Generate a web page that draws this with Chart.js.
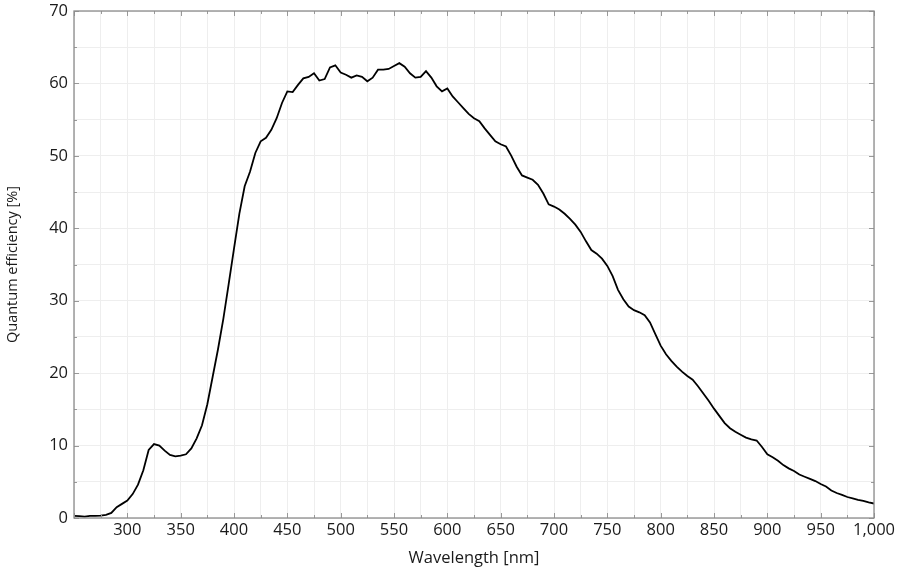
<!DOCTYPE html>
<html>
<head>
<meta charset="utf-8">
<script src="https://cdn.jsdelivr.net/npm/chart.js@4/dist/chart.umd.min.js"></script>
<style>
  html, body { margin: 0; padding: 0; background: #ffffff; }
  #wrap { width: 900px; height: 573px; position: relative; }
</style>
</head>
<body>
<div id="wrap"><canvas id="c"></canvas></div>
<script>
const wavelengths = [250,255,260,265,270,275,280,285,290,295,300,305,310,315,320,325,330,335,340,345,350,355,360,365,370,375,380,385,390,395,400,405,410,415,420,425,430,435,440,445,450,455,460,465,470,475,480,485,490,495,500,505,510,515,520,525,530,535,540,545,550,555,560,565,570,575,580,585,590,595,600,605,610,615,620,625,630,635,640,645,650,655,660,665,670,675,680,685,690,695,700,705,710,715,720,725,730,735,740,745,750,755,760,765,770,775,780,785,790,795,800,805,810,815,820,825,830,835,840,845,850,855,860,865,870,875,880,885,890,895,900,905,910,915,920,925,930,935,940,945,950,955,960,965,970,975,980,985,990,995,1000];
const efficiency = [0.28,0.25,0.18,0.28,0.3,0.33,0.44,0.7,1.5,1.95,2.4,3.3,4.6,6.6,9.4,10.2,10.0,9.3,8.7,8.5,8.6,8.8,9.6,11.0,12.8,15.7,19.5,23.3,27.5,32.3,37.2,42.0,45.8,47.8,50.4,52.0,52.5,53.6,55.2,57.3,58.9,58.8,59.8,60.7,60.9,61.4,60.4,60.6,62.2,62.5,61.5,61.2,60.8,61.1,60.9,60.3,60.8,61.9,61.9,62.0,62.4,62.8,62.3,61.4,60.8,60.9,61.7,60.8,59.6,58.9,59.3,58.2,57.4,56.6,55.8,55.2,54.8,53.8,52.9,52.0,51.6,51.3,50.0,48.5,47.3,47.0,46.7,46.0,44.8,43.3,43.0,42.6,42.0,41.3,40.5,39.5,38.2,37.0,36.5,35.8,34.8,33.4,31.5,30.2,29.2,28.7,28.4,28.0,27.0,25.4,23.8,22.6,21.7,20.9,20.2,19.6,19.1,18.2,17.2,16.2,15.1,14.1,13.1,12.4,11.9,11.5,11.1,10.85,10.7,9.8,8.8,8.4,7.9,7.3,6.85,6.5,6.0,5.7,5.4,5.1,4.7,4.35,3.8,3.45,3.2,2.9,2.7,2.5,2.35,2.15,2.0];
const xMin = 250, xMax = 1000, xStep = 25, xLabelStep = 50;
const yMin = 0, yMax = 70, yStep = 5, yLabelStep = 10;
const xTitle = 'Wavelength [nm]';
const yTitle = 'Quantum efficiency [%]';

const FONT = '"Open Sans", Lato, sans-serif';

const framePlugin = {
  id: 'frame',
  afterDatasetsDraw(chart) {
    const ctx = chart.ctx, a = chart.chartArea;
    const xs = chart.scales.x, ys = chart.scales.y;
    ctx.save();
    ctx.strokeStyle = '#999999';
    ctx.lineWidth = 1;
    ctx.beginPath();
    for (let v = xMin; v <= xMax; v += xStep) {
      const px = Math.round(xs.getPixelForValue(v)) + 0.5;
      const len = (v % xLabelStep === 0) ? 5 : 3;
      ctx.moveTo(px, a.bottom); ctx.lineTo(px, a.bottom - len);
      ctx.moveTo(px, a.top); ctx.lineTo(px, a.top + len);
    }
    for (let v = yMin; v <= yMax; v += yStep) {
      const py = Math.round(ys.getPixelForValue(v)) + 0.5;
      const len = (v % yLabelStep === 0) ? 5 : 3;
      ctx.moveTo(a.left, py); ctx.lineTo(a.left + len, py);
      ctx.moveTo(a.right, py); ctx.lineTo(a.right - len, py);
    }
    ctx.stroke();
    ctx.strokeStyle = '#8c8c8c';
    ctx.lineWidth = 1.3;
    ctx.strokeRect(a.left, a.top, a.right - a.left, a.bottom - a.top);
    ctx.restore();
  }
};

new Chart(document.getElementById('c'), {
  type: 'line',
  data: {
    datasets: [{
      data: wavelengths.map((w, i) => ({ x: w, y: efficiency[i] })),
      borderColor: '#000000',
      borderWidth: 1.8,
      pointRadius: 0,
      tension: 0,
      fill: false
    }]
  },
  options: {
    responsive: true,
    maintainAspectRatio: false,
    animation: false,
    layout: { padding: { top: 11, right: 26, left: 0, bottom: 0 } },
    plugins: { legend: { display: false }, tooltip: { enabled: false } },
    scales: {
      x: {
        type: 'linear',
        min: xMin, max: xMax,
        border: { display: false },
        grid: { color: '#eeeeee', lineWidth: 1, drawTicks: false },
        afterFit(s) { s.height = 55; s.paddingLeft = 0; s.paddingRight = 0; },
        ticks: {
          stepSize: xStep,
          autoSkip: false,
          maxRotation: 0,
          padding: 2,
          color: '#1a1a1a',
          font: { family: FONT, size: 16.5 },
          callback: (v) => (v % xLabelStep === 0 && v !== xMin) ? v.toLocaleString('en-US') : ''
        },
        title: {
          display: true, text: xTitle, color: '#1a1a1a',
          font: { family: FONT, size: 16.5 }, padding: { top: 2, bottom: 5 }
        }
      },
      y: {
        type: 'linear',
        min: yMin, max: yMax,
        border: { display: false },
        grid: { color: '#eeeeee', lineWidth: 1, drawTicks: false },
        afterFit(s) { s.width = 74; s.paddingTop = 0; s.paddingBottom = 0; },
        ticks: {
          stepSize: yStep,
          autoSkip: false,
          padding: 6,
          color: '#1a1a1a',
          font: { family: FONT, size: 16.5 },
          callback: (v) => (v % yLabelStep === 0) ? String(v) : ''
        },
        title: {
          display: true, text: yTitle, color: '#1a1a1a',
          font: { family: FONT, size: 14.5 }, padding: { top: 4, bottom: 8 }
        }
      }
    }
  },
  plugins: [framePlugin]
});
</script>
</body>
</html>
